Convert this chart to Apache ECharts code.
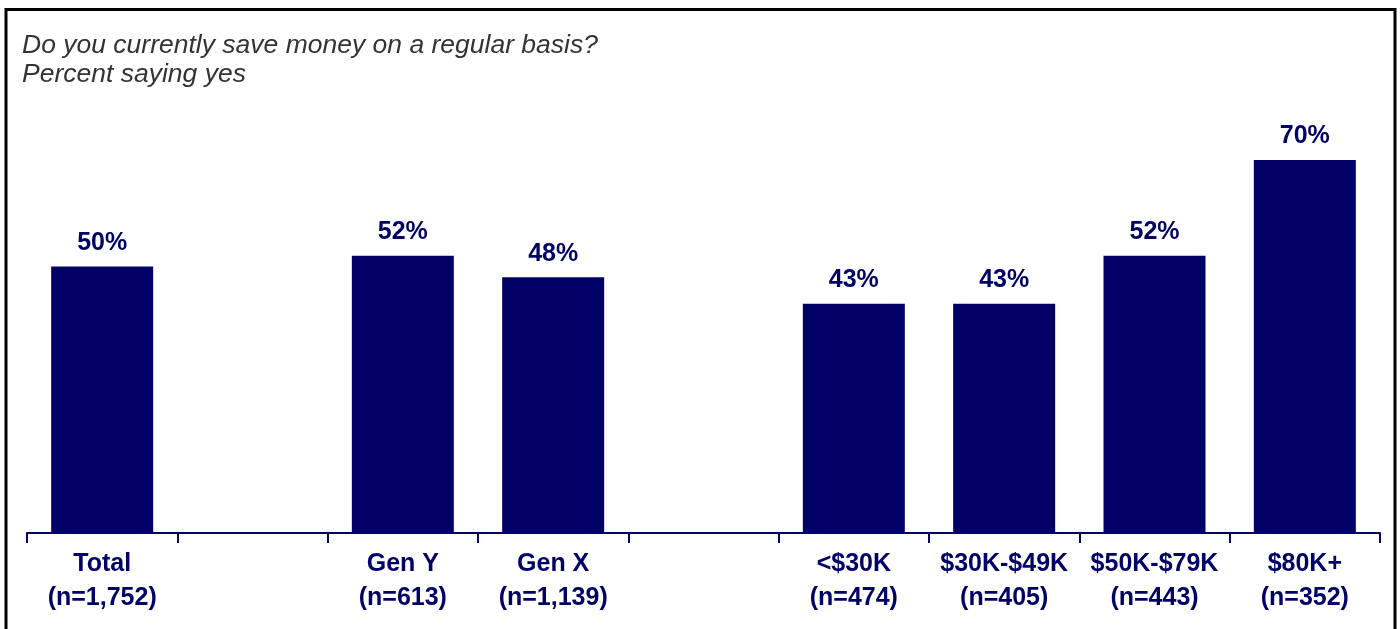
<!DOCTYPE html>
<html>
<head>
<meta charset="utf-8">
<script src="https://cdn.jsdelivr.net/npm/echarts@6/dist/echarts.min.js"></script>
<style>
  html, body { margin: 0; padding: 0; background: #ffffff; }
  #chart { width: 1400px; height: 629px; }
</style>
</head>
<body>
<div id="chart"></div>
<script>
// Survey groups; empty strings are spacer columns between the group blocks
const groups = ['Total', '', 'Gen Y', 'Gen X', '', '<$30K', '$30K-$49K', '$50K-$79K', '$80K+'];
const sampleSizes = ['1,752', '', '613', '1,139', '', '474', '405', '443', '352'];
// Percent saying yes
const percentYes = [50, null, 52, 48, null, 43, 43, 52, 70];

const subtitleLines = ['Do you currently save money on a regular basis?', 'Percent saying yes'];

const navy = '#000066';
const fontStack = '"Liberation Sans", Arial, sans-serif';

const categoryLabels = groups.map((g, i) => g ? g + '\n(n=' + sampleSizes[i] + ')' : '');

const chart = echarts.init(document.getElementById('chart'), null, { renderer: 'canvas' });

chart.setOption({
  animation: false,
  backgroundColor: '#ffffff',
  graphic: [
    {
      type: 'rect',
      shape: { x: 6, y: 9.5, width: 1389, height: 640 },
      style: { fill: 'none', stroke: '#000000', lineWidth: 3 },
      z: 0
    },
    {
      type: 'text',
      x: 22,
      y: 32,
      scaleX: 1.06,
      style: {
        text: subtitleLines.join('\n'),
        font: 'italic 25px ' + fontStack,
        lineHeight: 29,
        fill: '#333333'
      }
    }
  ],
  grid: { left: 27, right: 20, top: 0, bottom: 96, containLabel: false },
  xAxis: {
    type: 'category',
    data: categoryLabels,
    axisLine: { lineStyle: { color: navy, width: 2 } },
    axisTick: { show: true, length: 10, lineStyle: { color: navy, width: 2 } },
    axisLabel: {
      interval: 0,
      margin: 14,
      color: navy,
      fontFamily: fontStack,
      fontWeight: 'bold',
      fontSize: 25,
      lineHeight: 34
    }
  },
  yAxis: {
    type: 'value',
    min: 0,
    max: 100,
    show: false
  },
  series: [{
    type: 'bar',
    data: percentYes,
    barWidth: 102,
    itemStyle: { color: navy },
    label: {
      show: true,
      position: 'top',
      distance: 11,
      formatter: p => p.value + '%',
      color: navy,
      fontFamily: fontStack,
      fontWeight: 'bold',
      fontSize: 25
    }
  }]
});
</script>
</body>
</html>
